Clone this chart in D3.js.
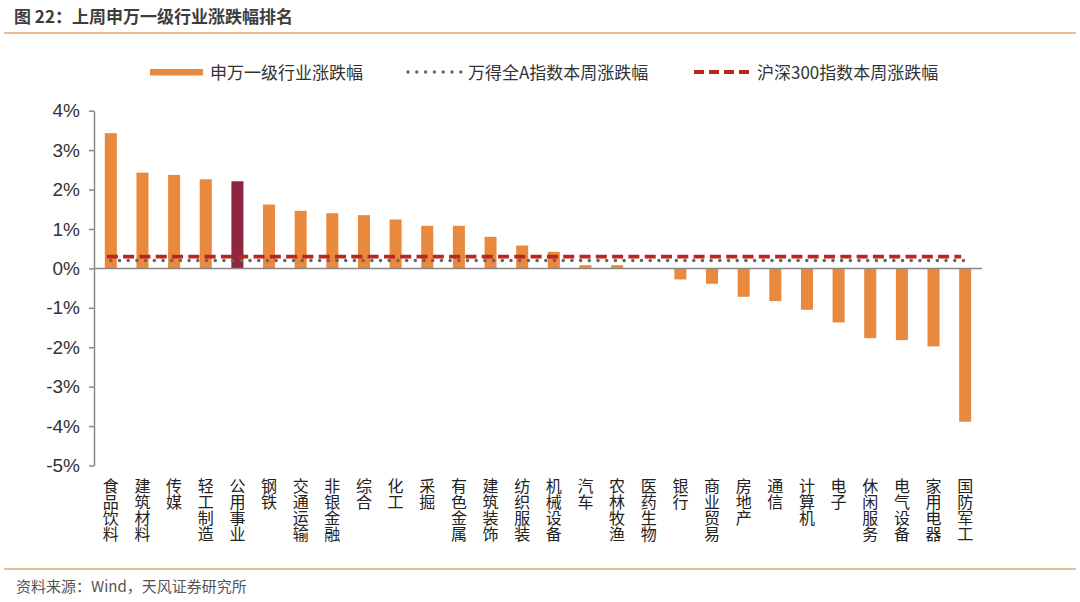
<!DOCTYPE html>
<html><head><meta charset="utf-8">
<script src="https://cdn.jsdelivr.net/npm/d3@7/dist/d3.min.js"></script>
<style>
html,body{margin:0;padding:0;background:#fff;}
svg{display:block;font-family:"Noto Sans CJK SC","Noto Sans",sans-serif;}
</style></head><body>
<svg id="c" width="1080" height="602"></svg>
<script>
const categories = ["食品饮料","建筑材料","传媒","轻工制造","公用事业","钢铁","交通运输","非银金融","综合","化工","采掘","有色金属","建筑装饰","纺织服装","机械设备","汽车","农林牧渔","医药生物","银行","商业贸易","房地产","通信","计算机","电子","休闲服务","电气设备","家用电器","国防军工"];
const industryChange = [3.43,2.43,2.37,2.26,2.21,1.62,1.46,1.40,1.35,1.24,1.08,1.08,0.80,0.58,0.42,0.08,0.08,0.01,-0.28,-0.39,-0.72,-0.83,-1.05,-1.37,-1.77,-1.82,-1.98,-3.89];
const windAChange = 0.20;
const hs300Change = 0.30;
const highlight = "公用事业";
const yTicks = [4,3,2,1,0,-1,-2,-3,-4,-5];
const legendLabels = ["申万一级行业涨跌幅","万得全A指数本周涨跌幅","沪深300指数本周涨跌幅"];

const svg = d3.select("#c");
const orange = "#E8893E", crimson = "#8E2641", red = "#B8261E", gray = "#666";

// title
svg.append("text").attr("x",14).attr("y",23).attr("font-size",17).attr("font-weight","bold").attr("fill","#3d3d3d").text("图 22：上周申万一级行业涨跌幅排名");
svg.append("line").attr("x1",4).attr("x2",1076).attr("y1",33).attr("y2",33).attr("stroke","#E9A36B").attr("stroke-width",1.5);
// footer
svg.append("line").attr("x1",4).attr("x2",1076).attr("y1",569).attr("y2",569).attr("stroke","#E9A36B").attr("stroke-width",1.5);
svg.append("text").attr("x",16).attr("y",592).attr("font-size",15).attr("fill","#555").text("资料来源：Wind，天风证券研究所");

const x = d3.scaleBand().domain(categories).range([95,981]).paddingInner(0.62).paddingOuter(0.31);
const y = d3.scaleLinear().domain([-5,4]).range([465.5,110.7]);

// y axis
const yAxis = d3.axisLeft(y).tickValues(yTicks).tickFormat(d=>d+"%").tickSize(5).tickSizeOuter(0);
const ya = svg.append("g").attr("transform","translate(94,0)").call(yAxis);
ya.select(".domain").attr("stroke","#888").attr("stroke-width",1.5);
ya.selectAll(".tick line").attr("stroke","#888").attr("stroke-width",1.5);
ya.selectAll(".tick text").attr("font-size",19).attr("fill","#333").attr("x",-14).attr("font-family","'Liberation Sans',Arial,sans-serif");

// bars
svg.append("g").selectAll("rect").data(categories).join("rect")
  .attr("x",d=>x(d)).attr("width",x.bandwidth())
  .attr("y",(d,i)=>y(Math.max(0,industryChange[i])))
  .attr("height",(d,i)=>Math.abs(y(industryChange[i])-y(0)))
  .attr("fill",d=>d===highlight?crimson:orange);

// zero line
svg.append("line").attr("x1",94).attr("x2",982).attr("y1",y(0)).attr("y2",y(0)).attr("stroke","#888").attr("stroke-width",1.5);

// reference lines through category centers
const cx = d=>x(d)+x.bandwidth()/2;
const line = d3.line().x(d=>cx(d[0])).y(d=>y(d[1]));
svg.append("path").datum(categories.map(c=>[c,windAChange])).attr("d",line)
  .attr("fill","none").attr("stroke",gray).attr("stroke-width",3.6).attr("stroke-linecap","round").attr("stroke-dasharray","0 8.7");
svg.append("path").datum(categories.map(c=>[c,hs300Change])).attr("d",line)
  .attr("fill","none").attr("stroke",red).attr("stroke-width",3.8).attr("stroke-dasharray","11 5.3").attr("transform","translate(-4,0)");

// x labels vertical
svg.append("g").selectAll("text").data(categories).join("text")
  .attr("x",d=>cx(d)).attr("y",478)
  .attr("font-size",16).attr("fill","#222")
  .style("writing-mode","vertical-rl").style("text-orientation","upright")
  .text(d=>d);

// legend
const lg = svg.append("g").attr("font-size",17).attr("fill","#333");
lg.append("rect").attr("x",150).attr("y",69).attr("width",53).attr("height",6.5).attr("fill",orange);
lg.append("text").attr("x",210).attr("y",78.5).text(legendLabels[0]);
lg.append("line").attr("x1",408).attr("x2",461).attr("y1",72).attr("y2",72).attr("stroke",gray).attr("stroke-width",3.4).attr("stroke-linecap","round").attr("stroke-dasharray","0 8.8");
lg.append("text").attr("x",468).attr("y",78.5).text(legendLabels[1]);
lg.append("line").attr("x1",694).attr("x2",753).attr("y1",72).attr("y2",72).attr("stroke",red).attr("stroke-width",3.8).attr("stroke-dasharray","10 5");
lg.append("text").attr("x",757).attr("y",78.5).text(legendLabels[2]);
</script>
</body></html>
